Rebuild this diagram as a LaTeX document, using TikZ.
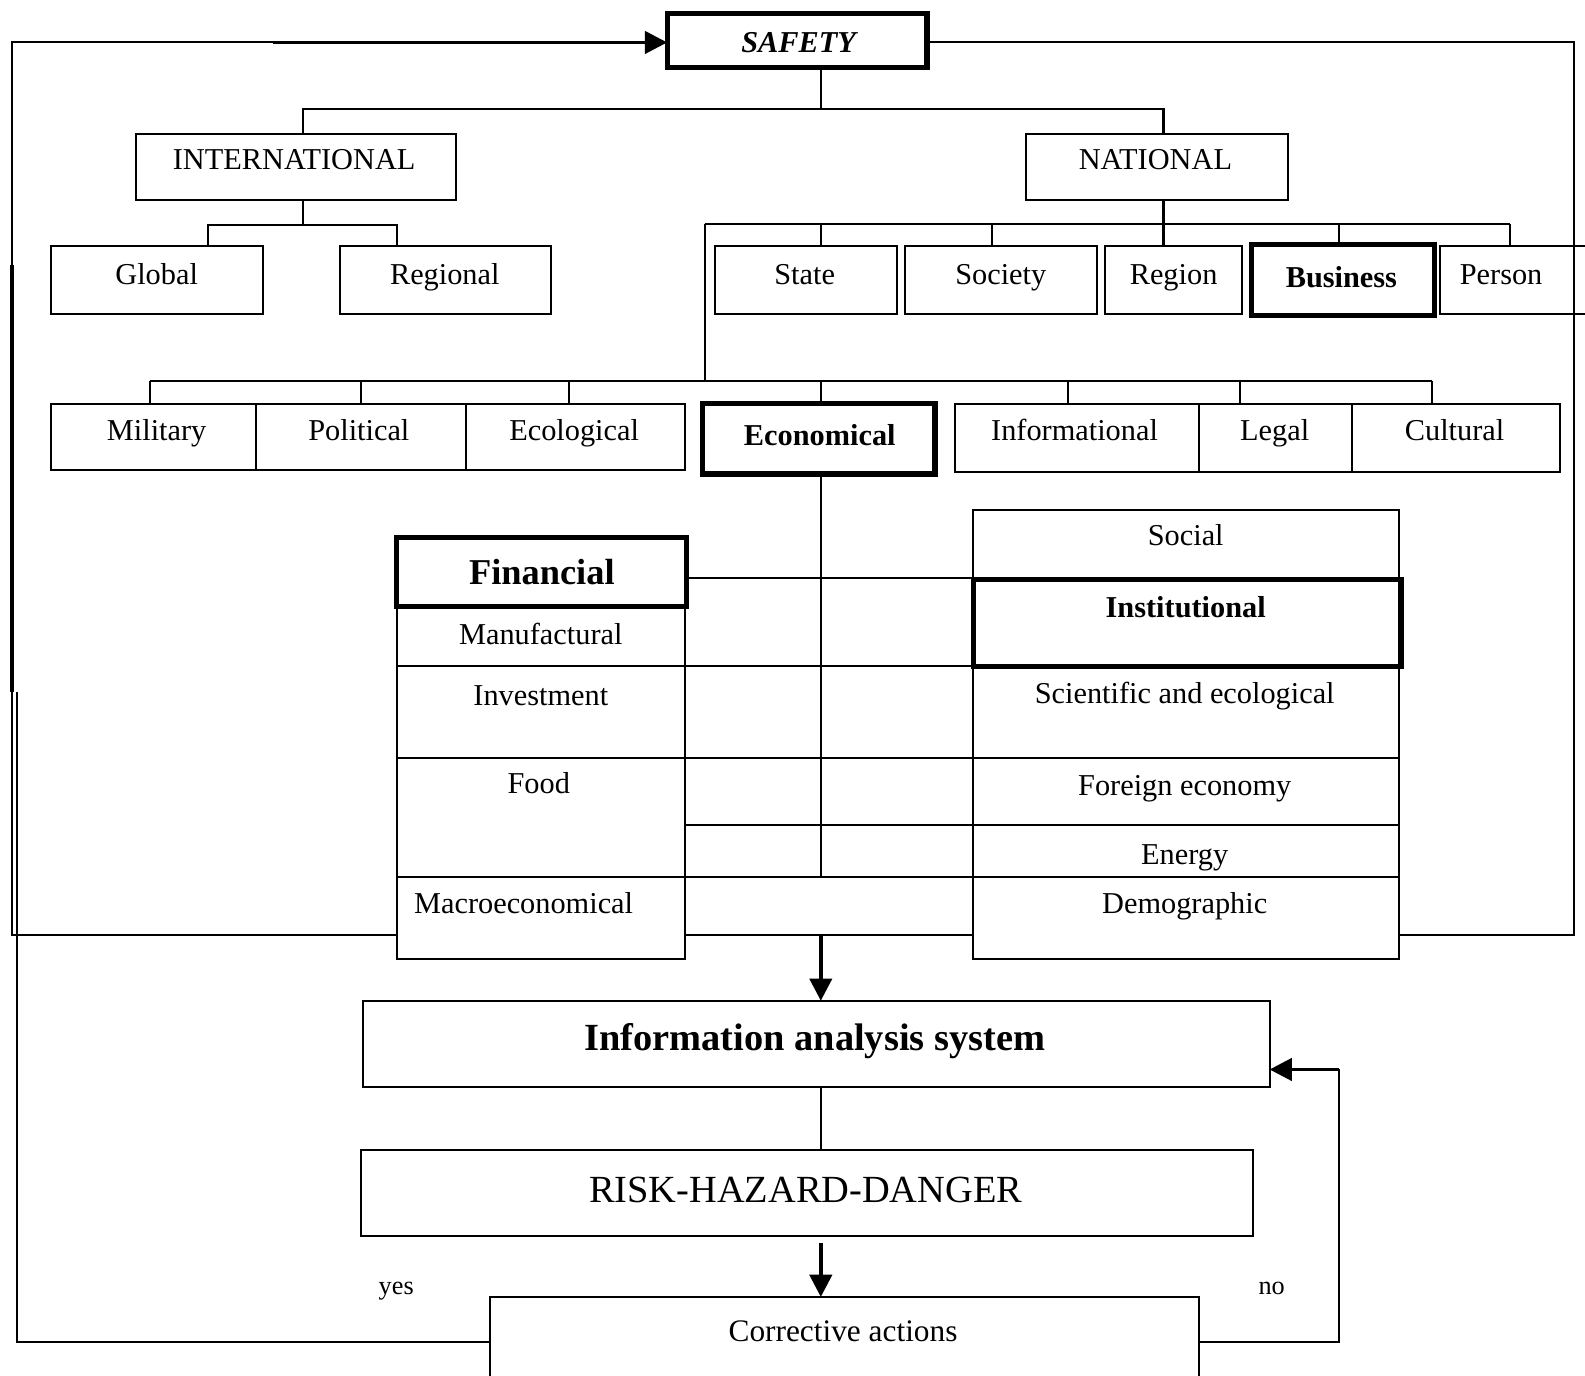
\documentclass[tikz,border=0pt]{standalone}
\usepackage{fontspec}
\setmainfont{Liberation Serif}
\usetikzlibrary{arrows.meta}
\newcommand\mkbox[6]{\node[bx,minimum width={(#4-#2)*0.5pt},minimum height={(#5-#3)*0.5pt},#6] (#1) at ({(#2+#4)/2},{(#3+#5)/2}) {};}
\tikzset{
 bx/.style={draw, line width=1pt, inner sep=0pt, outer sep=0pt},
 tbx/.style={line width=2.6pt},
 lbl/.style={font=\fontsize{15}{18}\selectfont, inner sep=0pt, text height=10pt, text depth=0pt},
 blbl/.style={font=\bfseries\fontsize{15}{18}\selectfont, inner sep=0pt, text height=10pt, text depth=0pt},
 ln/.style={line width=1pt},
 arr/.style={line width=1.8pt, -{Triangle[length=11pt,width=11pt]}},
}
\begin{document}
\begin{tikzpicture}[x=0.5pt, y=-0.5pt, line width=1pt]
\useasboundingbox (0,0) rectangle (1568,1361);
\fill[white] (0,0) rectangle (1568,1361);
\clip (0,0) rectangle (1568,1361);
% boxes
\mkbox{safety}{660}{13}{917}{67}{tbx}
\mkbox{intl}{135}{133}{451}{198}{}
\mkbox{natl}{1015}{133}{1274}{198}{}
\mkbox{global}{50}{243}{260}{311}{}
\mkbox{regional}{336}{243}{545}{311}{}
\mkbox{state}{707}{243}{887}{311}{}
\mkbox{society}{895}{243}{1085}{311}{}
\mkbox{region}{1093}{243}{1229}{311}{}
\mkbox{business}{1238}{242}{1419}{312}{tbx}
\mkbox{person}{1425}{243}{1576}{311}{}
\mkbox{military}{50}{400}{253}{465}{}
\mkbox{political}{253}{400}{461}{465}{}
\mkbox{ecological}{461}{400}{678}{465}{}
\mkbox{economical}{695}{399}{925}{469}{tbx}
\mkbox{informational}{945}{400}{1186}{467}{}
\mkbox{legal}{1186}{400}{1337}{467}{}
\mkbox{cultural}{1337}{400}{1543}{467}{}
\mkbox{manuf}{393}{600}{678}{659}{}
\mkbox{invest}{393}{659}{678}{750}{}
\mkbox{food}{393}{750}{678}{868}{}
\mkbox{macro}{393}{868}{678}{949}{}
\mkbox{financial}{392}{532}{679}{600}{tbx}
\mkbox{social}{963}{505}{1384}{573}{}
\mkbox{sci}{963}{659}{1384}{750}{}
\mkbox{foreign}{963}{750}{1384}{816}{}
\mkbox{energy}{963}{816}{1384}{868}{}
\mkbox{demo}{963}{868}{1384}{949}{}
\mkbox{inst}{963}{573}{1386}{659}{tbx}
\mkbox{info}{359}{990}{1256}{1075}{}
\mkbox{risk}{357}{1138}{1240}{1223}{}
\mkbox{corr}{485}{1283}{1186}{1372}{}
% texts
\node[lbl, font=\bfseries\itshape\fontsize{15}{18}\selectfont] (safety-t) at (790,42) {SAFETY};
\node[lbl] (intl-t) at (291,158) {INTERNATIONAL};
\node[lbl] (natl-t) at (1143,158) {NATIONAL};
\node[lbl] (global-t) at (155,271) {Global};
\node[lbl] (regional-t) at (440,271) {Regional};
\node[lbl] (state-t) at (796,271) {State};
\node[lbl] (society-t) at (990,271) {Society};
\node[lbl] (region-t) at (1161,271) {Region};
\node[blbl] (business-t) at (1327,274) {Business};
\node[lbl] (person-t) at (1485,271) {Person};
\node[lbl] (military-t) at (155,426) {Military};
\node[lbl] (political-t) at (355,426) {Political};
\node[lbl] (ecological-t) at (568,426) {Ecological};
\node[blbl] (economical-t) at (811,431) {Economical};
\node[lbl] (informational-t) at (1063,426) {Informational};
\node[lbl] (legal-t) at (1261,426) {Legal};
\node[lbl] (cultural-t) at (1439,426) {Cultural};
\node[lbl, font=\bfseries\fontsize{18}{21}\selectfont, text height=12pt] (financial-t) at (536,566) {Financial};
\node[lbl] (manuf-t) at (535,628) {Manufactural};
\node[lbl] (invest-t) at (535,688) {Investment};
\node[lbl] (food-t) at (533,775) {Food};
\node[lbl] (macro-t) at (518,894) {Macroeconomical};
\node[lbl] (social-t) at (1173,530) {Social};
\node[blbl] (inst-t) at (1173,601) {Institutional};
\node[lbl] (sci-t) at (1172,686) {Scientific and ecological};
\node[lbl] (foreign-t) at (1172,777) {Foreign economy};
\node[lbl] (energy-t) at (1172,845) {Energy};
\node[lbl] (demo-t) at (1172,894) {Demographic};
\node[lbl, font=\bfseries\fontsize{19}{22}\selectfont, text height=12.6pt] (info-t) at (806,1027) {Information analysis system};
\node[lbl, font=\fontsize{19}{22}\selectfont, text height=12.6pt] (risk-t) at (797,1177) {RISK-HAZARD-DANGER};
\node[lbl, font=\fontsize{15.5}{18}\selectfont] (corr-t) at (834,1317) {Corrective actions};
\node[lbl, font=\fontsize{13}{15}\selectfont, text height=8pt] (yes) at (392,1273) {yes};
\node[lbl, font=\fontsize{13}{15}\selectfont, text height=8pt] (no) at (1258,1273) {no};
% top tree
\coordinate (jt) at (812,108);
\coordinate (ji) at (300,108);
\coordinate (jn) at (1151,108);
\draw[ln] (safety.south -| jt) -- (jt);
\draw[ln] (intl.north -| ji) -- (ji) -- (jn) -- (natl.north -| jn);
% international
\coordinate (ic) at (300,223);
\coordinate (ig) at (206,223);
\coordinate (ir) at (393,223);
\draw[ln] (intl.south -| ic) -- (ic);
\draw[ln] (global.north -| ig) -- (ig) -- (ir) -- (regional.north -| ir);
% national
\coordinate (nc) at (1151,222);
\coordinate (nl) at (697,222);
\coordinate (nr) at (1494,222);
\draw[ln] (natl.south -| nc) -- (nc);
\draw[ln] (nl) -- (nr);
\foreach \n/\x in {state/812, society/981, region/1151, business/1325, person/1494}{
  \coordinate (d-\n) at (\x,222);
  \draw[ln] (d-\n) -- (\n.north -| d-\n);
}
% categories
\coordinate (cm) at (697,377);
\coordinate (cl) at (148,377);
\coordinate (cr) at (1417,377);
\draw[ln] (nl) -- (cm);
\draw[ln] (cl) -- (cr);
\foreach \n/\x in {military/148, political/357, ecological/563, economical/812, informational/1057, legal/1227, cultural/1417}{
  \coordinate (c-\n) at (\x,377);
  \draw[ln] (c-\n) -- (\n.north -| c-\n);
}
% economical stem and links
\draw[ln] (economical.south -| jt) -- (jt |- food.south);
\coordinate (h1) at (0,572);
\draw[ln] (financial.east |- h1) -- (inst.west |- h1);
\draw[ln] (manuf.south east) -- (inst.south west);
\draw[ln] (invest.south east) -- (sci.south west);
\draw[ln] (food.east |- foreign.south) -- (foreign.south west);
\draw[ln] (food.south east) -- (energy.south west);
% big loop
\coordinate (L1) at (12,42);
\coordinate (L2) at (12,925);
\coordinate (R1) at (1557,42);
\coordinate (R2) at (1557,925);
\coordinate (La) at (270,42);
\coordinate (Lt1) at (12,262);
\coordinate (Lt2) at (12,685);
\draw[ln] (La) -- (L1) -- (L2) -- (macro.west |- L2);
\draw[line width=2pt] (Lt1) -- (Lt2);
\draw[ln] (macro.east |- L2) -- (demo.west |- L2);
\draw[ln] (demo.east |- L2) -- (R2) -- (R1) -- (safety.east |- R1);
\draw[arr] (La) -- (safety.west |- La);
% lower flow
\coordinate (a1) at (812,925);
\draw[arr] (a1) -- (info.north -| a1);
\draw[ln] (info.south -| jt) -- (risk.north -| jt);
\coordinate (a2) at (812,1230);
\draw[arr] (a2) -- (corr.north -| a2);
% no loop
\coordinate (n1) at (1325,1328);
\coordinate (n2) at (1325,1058);
\draw[ln] (corr.east |- n1) -- (n1) -- (n2);
\draw[arr] (n2) -- (info.east |- n2);
% yes loop
\coordinate (y1) at (17,1328);
\coordinate (y2) at (17,685);
\draw[ln] (corr.west |- y1) -- (y1) -- (y2);
\end{tikzpicture}
\end{document}
